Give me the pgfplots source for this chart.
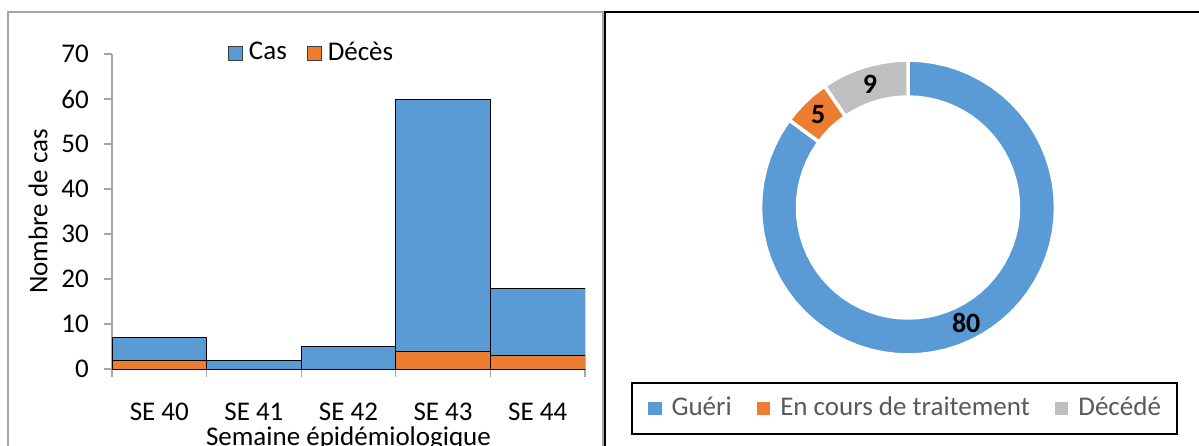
\documentclass[border=0pt]{standalone}
\usepackage{pgfplots}
\pgfplotsset{compat=1.18}
\usepackage{fontspec}
\setmainfont{Carlito}
\definecolor{cblue}{HTML}{5B9BD5}
\definecolor{corange}{HTML}{ED7D31}
\definecolor{cgray}{HTML}{BFBFBF}
\definecolor{axgray}{HTML}{A6A6A6}
\definecolor{txtgray}{HTML}{595959}
\begin{document}
\fontsize{27}{32}\selectfont
\begin{tikzpicture}[x=1pt,y=1pt]
\useasboundingbox (0,0) rectangle (1199,445);
% panel frames
\draw[axgray, line width=2pt] (8,-10) -- (8,433) -- (602.5,433) -- (602.5,-10);
\draw[black, line width=2.5pt] (605,-10) -- (605,433) -- (1215,433);

% ---------- left: bar chart ----------
\begin{axis}[
  at={(112pt,76pt)}, anchor=south west,
  scale only axis, width=473pt, height=315pt,
  xmin=-0.5, xmax=4.5, ymin=0, ymax=70,
  axis x line*=bottom, axis y line*=left,
  axis line style={axgray, line width=1.3pt, -},
  tick style={axgray, line width=1.3pt},
  tick align=outside, major tick length=8pt,
  ytick={0,10,...,70},
  xtick={-0.5,0.5,1.5,2.5,3.5,4.5}, xticklabels={},
  extra x ticks={0,1,2,3,4},
  extra x tick labels={SE 40,SE 41,SE 42,SE 43,SE 44},
  extra x tick style={major tick length=0pt,
     xticklabel style={anchor=north, inner sep=0pt, yshift=-34pt}},
  yticklabel style={anchor=east, inner sep=0pt, xshift=-15pt},
  /pgf/number format/assume math mode=true,
  every axis x label/.style={at={(axis description cs:0.5,0)}, anchor=base, inner sep=0pt, yshift=-76pt},
  every axis y label/.style={at={(axis description cs:0,0.5)}, xshift=-74pt, rotate=90, anchor=center},
  xlabel={Semaine épidémiologique},
  ylabel={Nombre de cas},
  legend style={at={(0.42,1.003)}, anchor=center, draw=none, fill=none,
     legend columns=-1, nodes={inner xsep=0pt},
     /tikz/every odd column/.append style={column sep=6pt},
     /tikz/every even column/.append style={column sep=20pt}},
]
\addplot[ybar, bar width=94.6pt, bar shift=0pt, fill=cblue, draw=black, line width=1pt,
  legend image code/.code={\draw[fill=cblue, draw=black!75, line width=0.9pt] (0pt,-7pt) rectangle (14pt,7pt);}]
  coordinates {(0,7) (1,2) (2,5) (3,60) (4,18)};
\addlegendentry{Cas}
\addplot[ybar, bar width=94.6pt, bar shift=0pt, fill=corange, draw=black, line width=1pt,
  legend image code/.code={\draw[fill=corange, draw=black!75, line width=0.9pt] (0pt,-7pt) rectangle (14pt,7pt);}]
  coordinates {(0,2) (3,4) (4,3)};
\addlegendentry{Décès}
\end{axis}

% ---------- right: doughnut ----------
\begin{axis}[
  at={(908pt,237.5pt)}, anchor=center,
  scale only axis, width=295pt, height=295pt,
  xmin=-1, xmax=1, ymin=-1, ymax=1,
  hide axis, clip=false,
  legend style={at={(0.488,-0.1814)}, anchor=center, draw=black, line width=1.8pt,
     fill=white, legend columns=-1, inner xsep=16pt, inner ysep=12pt,
     nodes={text=txtgray, inner xsep=0pt},
     /tikz/every odd column/.append style={column sep=10pt},
     /tikz/every even column/.append style={column sep=25pt}},
]
\addplot[data cs=polar, fill=cblue, draw=white, line width=3.5pt,
  legend image code/.code={\fill[cblue] (0pt,-5pt) rectangle (10pt,5pt);}]
  coordinates {(90,1) (85,1) (80,1) (75,1) (70,1) (65,1) (60,1) (55,1) (50,1) (45,1) (40,1) (35,1) (30,1) (25,1) (20,1) (15,1) (10,1) (5,1) (0,1) (-5,1) (-10,1) (-15,1) (-20,1) (-25,1) (-30,1) (-35,1) (-40,1) (-45,1) (-50,1) (-55,1) (-60,1) (-65,1) (-70,1) (-75,1) (-80,1) (-85,1) (-90,1) (-95,1) (-100,1) (-105,1) (-110,1) (-115,1) (-120,1) (-125,1) (-130,1) (-135,1) (-140,1) (-145,1) (-150,1) (-155,1) (-160,1) (-165,1) (-170,1) (-175,1) (-180,1) (-185,1) (-190,1) (-195,1) (-200,1) (-205,1) (-210,1) (-215,1) (-216.383,1)
  (-216.383,0.749) (-215,0.749) (-210,0.749) (-205,0.749) (-200,0.749) (-195,0.749) (-190,0.749) (-185,0.749) (-180,0.749) (-175,0.749) (-170,0.749) (-165,0.749) (-160,0.749) (-155,0.749) (-150,0.749) (-145,0.749) (-140,0.749) (-135,0.749) (-130,0.749) (-125,0.749) (-120,0.749) (-115,0.749) (-110,0.749) (-105,0.749) (-100,0.749) (-95,0.749) (-90,0.749) (-85,0.749) (-80,0.749) (-75,0.749) (-70,0.749) (-65,0.749) (-60,0.749) (-55,0.749) (-50,0.749) (-45,0.749) (-40,0.749) (-35,0.749) (-30,0.749) (-25,0.749) (-20,0.749) (-15,0.749) (-10,0.749) (-5,0.749) (0,0.749) (5,0.749) (10,0.749) (15,0.749) (20,0.749) (25,0.749) (30,0.749) (35,0.749) (40,0.749) (45,0.749) (50,0.749) (55,0.749) (60,0.749) (65,0.749) (70,0.749) (75,0.749) (80,0.749) (85,0.749) (90,0.749)} -- cycle;
\addlegendentry{Guéri}
\addplot[data cs=polar, fill=corange, draw=white, line width=3.5pt,
  legend image code/.code={\fill[corange] (0pt,-5pt) rectangle (10pt,5pt);}]
  coordinates {(-216.383,1) (-220,1) (-225,1) (-230,1) (-235.532,1)
  (-235.532,0.749) (-230,0.749) (-225,0.749) (-220,0.749) (-216.383,0.749)} -- cycle;
\addlegendentry{En cours de traitement}
\addplot[data cs=polar, fill=cgray, draw=white, line width=3.5pt,
  legend image code/.code={\fill[cgray] (0pt,-5pt) rectangle (10pt,5pt);}]
  coordinates {(-235.532,1) (-240,1) (-245,1) (-250,1) (-255,1) (-260,1) (-265,1) (-270,1)
  (-270,0.749) (-265,0.749) (-260,0.749) (-255,0.749) (-250,0.749) (-245,0.749) (-240,0.749) (-235.532,0.749)} -- cycle;
\addlegendentry{Décédé}
\addplot[data cs=polar, only marks, mark=none, forget plot,
  nodes near coords, point meta=explicit symbolic,
  nodes near coords style={font=\fontsize{28}{32}\selectfont\bfseries, anchor=center, inner sep=0pt, text=black}]
  coordinates {(-63.19,0.875) [80] (134.1,0.875) [5] (107.2,0.875) [9]};
\end{axis}
\end{tikzpicture}
\end{document}
